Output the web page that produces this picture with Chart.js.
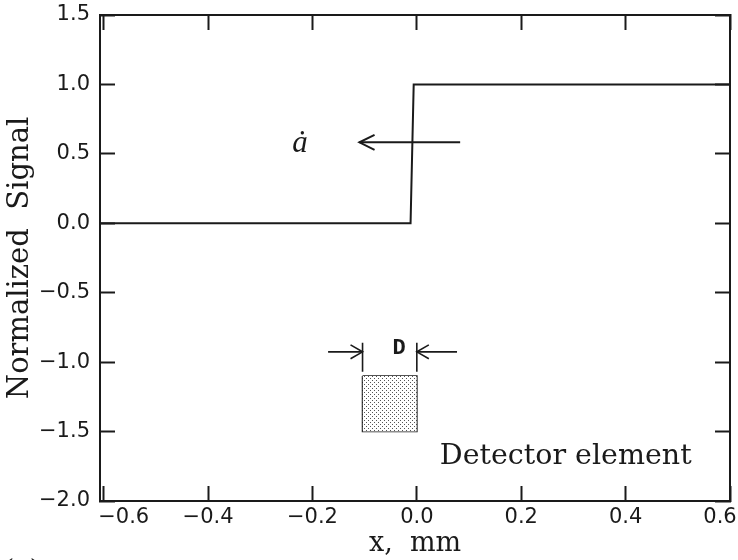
<!DOCTYPE html>
<html>
<head>
<meta charset="utf-8">
<script src="https://cdn.jsdelivr.net/npm/chart.js@4"></script>
<style>
  html, body { margin: 0; padding: 0; background: #fff; }
</style>
</head>
<body>
<canvas id="myChart" width="738" height="560"></canvas>

<script>
// axis ticks
const xTicks = [-0.6, -0.4, -0.2, 0.0, 0.2, 0.4, 0.6];
const yTicks = [-2.0, -1.5, -1.0, -0.5, 0.0, 0.5, 1.0, 1.5];

// normalized signal (step at the edge)
const signalX = [-0.607, -0.012, -0.006, 0.6];
const signalY = [0, 0, 1, 1];

// velocity arrow  (a-dot)
const arrowX = [0.083, -0.11];
const arrowY = [0.583, 0.583];
const arrowHeadX = [-0.081, -0.11, -0.081];
const arrowHeadY = [0.637, 0.583, 0.529];

// detector element
const boxX = [-0.104, 0, 0, -0.104, -0.104];
const boxY = [-1.1, -1.1, -1.5, -1.5, -1.1];
const boxTopX = [-0.104, 0];
const boxTopY = [-1.1, -1.1];
const boxBottom = -1.5;

// width marker D
const barLeftX = [-0.104, -0.104];
const barRightX = [0, 0];
const barY = [-0.861, -1.07];
const dArrowLeftX = [-0.17, -0.104];
const dArrowRightX = [0.077, 0];
const dArrowY = [-0.926, -0.926];
const dHeadLeftX = [-0.127, -0.104, -0.127];
const dHeadRightX = [0.023, 0, 0.023];
const dHeadY = [-0.876, -0.926, -0.976];

const ink = '#1a1a1a';

function pts(xs, ys) {
  return xs.map((x, i) => ({ x: x, y: ys[i] }));
}

function fmt(v) {
  return (v < 0 ? '\u2212' : '') + Math.abs(v).toFixed(1);
}

// end labels sit inside the frame, as in the original
function xLabel(v) {
  if (v === xTicks[0]) return '\u2007\u2007\u2007' + fmt(v);
  if (v === xTicks[xTicks.length - 1]) return fmt(v) + '\u2007 ';
  return fmt(v);
}

function stipple() {
  const c = document.createElement('canvas');
  c.width = 4; c.height = 4;
  const g = c.getContext('2d');
  g.fillStyle = '#fff';
  g.fillRect(0, 0, 4, 4);
  g.fillStyle = '#555';
  g.fillRect(0, 0, 1, 1);
  g.fillRect(2, 2, 1, 1);
  return g.createPattern(c, 'repeat');
}

function line(data, width) {
  return {
    data: data,
    showLine: true,
    borderColor: ink,
    borderWidth: width || 2,
    pointRadius: 0,
    fill: false
  };
}

// fixed box sizes so the plot area lands where the original has it
function fixSize(prop, size) {
  return s => {
    s[prop] = size;
    s.paddingLeft = s.paddingRight = s.paddingTop = s.paddingBottom = 0;
  };
}

// text notes placed in data units
const notes = {
  id: 'notes',
  afterDatasetsDraw(chart) {
    const { ctx, scales: { x, y } } = chart;
    ctx.save();
    ctx.fillStyle = ink;
    ctx.textAlign = 'center';
    ctx.textBaseline = 'alphabetic';
    ctx.font = 'italic 31px "Liberation Serif"';
    ctx.fillText('\u0227', x.getPixelForValue(-0.224), y.getPixelForValue(0.51));
    ctx.font = 'bold 22px "Liberation Mono"';
    ctx.textBaseline = 'middle';
    ctx.fillText('D', x.getPixelForValue(-0.034), y.getPixelForValue(-0.905));
    ctx.textBaseline = 'alphabetic';
    ctx.textAlign = 'left';
    ctx.font = '28.5px "DejaVu Serif"';
    ctx.fillText('Detector element', x.getPixelForValue(0.044), y.getPixelForValue(-1.73));
    ctx.font = '26px "DejaVu Serif"';
    ctx.fillText('(a)', 4, 578);
    ctx.restore();
  }
};

const tickFont = { family: '"DejaVu Sans"', size: 21 };
const gridOpts = { drawOnChartArea: false, tickLength: -15, tickWidth: 2, tickColor: ink };
const borderOpts = { width: 2, color: ink };

new Chart(document.getElementById('myChart'), {
  type: 'scatter',
  data: {
    datasets: [
      line(pts(signalX, signalY)),
      line(pts(arrowX, arrowY)),
      line(pts(arrowHeadX, arrowHeadY)),
      {
        data: pts(boxTopX, boxTopY),
        showLine: true,
        borderWidth: 0,
        pointRadius: 0,
        backgroundColor: stipple(),
        fill: { value: boxBottom }
      },
      line(pts(boxX, boxY), 1.6),
      line(pts(barLeftX, barY), 1.6),
      line(pts(barRightX, barY), 1.6),
      line(pts(dArrowLeftX, dArrowY), 1.6),
      line(pts(dArrowRightX, dArrowY), 1.6),
      line(pts(dHeadLeftX, dHeadY), 1.6),
      line(pts(dHeadRightX, dHeadY), 1.6)
    ]
  },
  options: {
    responsive: false,
    animation: false,
    events: [],
    layout: { padding: 0 },
    plugins: { legend: { display: false }, tooltip: { enabled: false } },
    elements: { line: { tension: 0 } },
    scales: {
      x: {
        type: 'linear', position: 'bottom', min: -0.607, max: 0.6,
        afterBuildTicks: s => { s.ticks = xTicks.map(v => ({ value: v })); },
        afterFit: fixSize('height', 59),
        grid: gridOpts, border: borderOpts,
        ticks: { padding: 19, font: tickFont, color: ink, maxRotation: 0, callback: xLabel },
        title: {
          display: true, text: 'x,  mm', color: ink,
          font: { family: '"DejaVu Serif"', size: 27 }, padding: { top: 0, bottom: 0 }
        }
      },
      x2: {
        type: 'linear', position: 'top', min: -0.607, max: 0.6,
        afterBuildTicks: s => { s.ticks = xTicks.map(v => ({ value: v })); },
        afterFit: fixSize('height', 15),
        grid: gridOpts, border: borderOpts,
        ticks: { display: false }
      },
      y: {
        type: 'linear', position: 'left', min: -2.0, max: 1.5,
        afterBuildTicks: s => { s.ticks = yTicks.map(v => ({ value: v })); },
        afterFit: fixSize('width', 100),
        grid: gridOpts, border: borderOpts,
        ticks: { padding: 25, font: tickFont, color: ink, callback: v => fmt(v) },
        title: {
          display: true, text: 'Normalized  Signal', color: ink,
          font: { family: '"DejaVu Serif"', size: 29 }, padding: { top: 3, bottom: 0 }
        }
      },
      y2: {
        type: 'linear', position: 'right', min: -2.0, max: 1.5,
        afterBuildTicks: s => { s.ticks = yTicks.map(v => ({ value: v })); },
        afterFit: fixSize('width', 8),
        grid: gridOpts, border: borderOpts,
        ticks: { display: false }
      }
    }
  },
  plugins: [notes]
});
</script>
</body>
</html>
